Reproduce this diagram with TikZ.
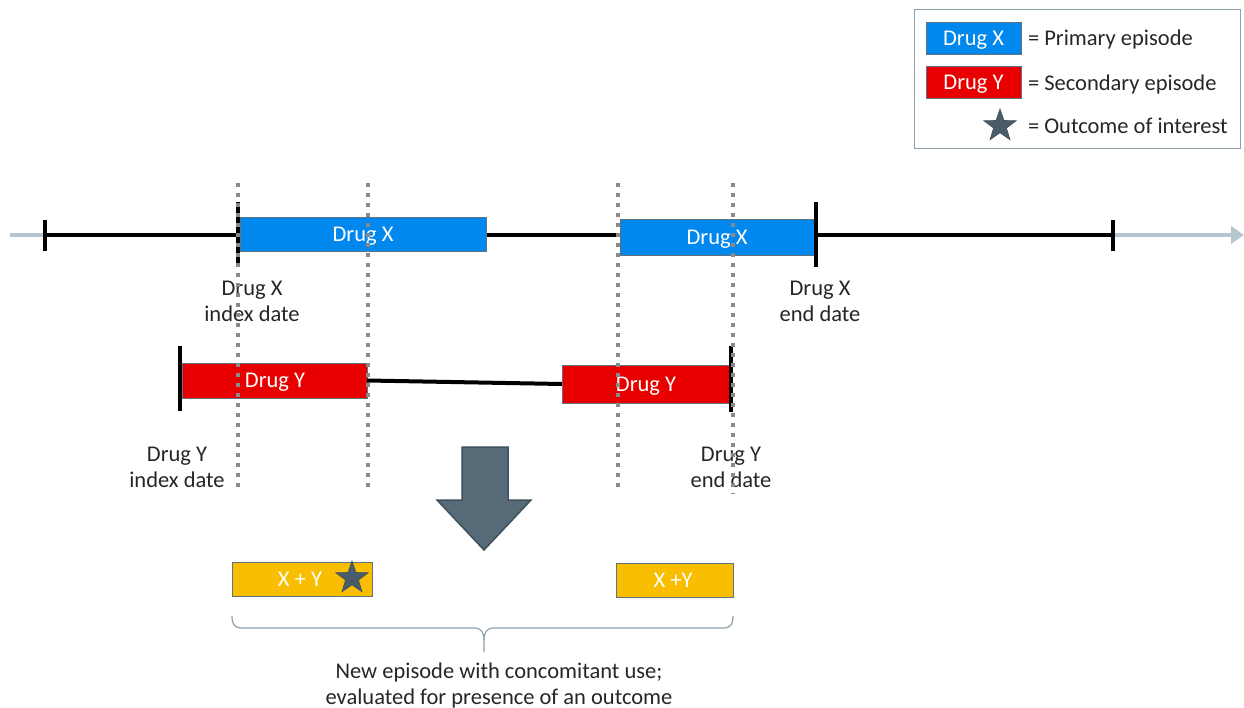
\documentclass[tikz,border=0pt]{standalone}
\usepackage{fontspec}
\setmainfont{Carlito}
\usetikzlibrary{shapes.geometric,arrows.meta}
\definecolor{drugx}{HTML}{0088EE}
\definecolor{drugy}{HTML}{E80000}
\definecolor{combo}{HTML}{F9BE00}
\definecolor{slate}{HTML}{4A5C68}
\definecolor{axisgray}{HTML}{B7C6CE}
\definecolor{guide}{HTML}{8A8A8A}
\definecolor{boxedge}{HTML}{5F7480}
\definecolor{bracegray}{HTML}{8FA0AA}
\definecolor{arrowfill}{HTML}{566B77}
\definecolor{arrowedge}{HTML}{3F515C}

\begin{document}
\begin{tikzpicture}[x=1pt,y=-1pt,
  every node/.style={font=\fontsize{22.5}{26}\selectfont, inner sep=0pt, outer sep=0pt},
  episode/.style={draw=boxedge, line width=0.8pt, text=white, text height=16.5pt, text depth=2pt},
  xep/.style={episode, fill=drugx},
  yep/.style={episode, fill=drugy},
  cep/.style={episode, fill=combo},
  celltext/.style={text=white, text height=16.5pt, text depth=2pt},
  outcome/.style={star, star points=5, star point ratio=2.5, fill=slate,
    draw=arrowedge, line width=0.6pt, minimum size=34pt},
  tick/.style={line width=4pt, black},
  timeline/.style={line width=4pt, black},
  guideline/.style={guide, line width=3.5pt, dash pattern=on 4pt off 6pt},
  caption/.style={align=center, text=black!85},
  legendtext/.style={anchor=west, text=black!85, text height=16.5pt, text depth=2pt}]
\useasboundingbox (0,0) rectangle (1244,708);

% legend
\node[draw=bracegray, line width=1pt, minimum width=326pt, minimum height=139pt, anchor=north west] (legend) at (914,10) {};
\node[xep, minimum width=95pt, minimum height=32pt] (lx) at (973.5,38) {Drug X};
\node[yep, minimum width=95pt, minimum height=32pt] (ly) at (973.5,82) {Drug Y};
\node[outcome] (ls) at (1000,126) {};
\node[legendtext] (lxt) at (1028,38) {= Primary episode};
\node[legendtext] (lyt) at (1028,83) {= Secondary episode};
\node[legendtext] (lst) at (1028,126) {= Outcome of interest};

% time axis
\coordinate (a0) at (10,235);
\coordinate (a1) at (1244,235);
\draw[axisgray, line width=4pt, -{Triangle[length=13pt,width=17pt]}] (a0) -- (a1);

% drug X row
\coordinate (t1) at (45,235);
\coordinate (t4) at (1113,235);
\draw[timeline] (t1) -- (t4);
\draw[tick] (45,220) -- (45,251);
\draw[tick] (1113,220) -- (1113,251);
\draw[tick] (238,202) -- (238,267);
\node[xep, minimum width=246pt, minimum height=34pt] (x1) at (363,234) {Drug X};
\node[xep, minimum width=194pt, minimum height=36pt] (x2) at (717,237) {Drug X};
\draw[tick] (816,202) -- (816,267);

\node[caption] (xi) at (252,301) {Drug X\\index date};
\node[caption] (xe) at (820,301) {Drug X\\end date};

% drug Y row
\node[yep, minimum width=185pt, minimum height=35pt] (y1) at (274.5,380.5) {\hspace*{1pt}Drug Y};
\node[yep, minimum width=168pt, minimum height=38pt] (y2) at (646,384) {Drug Y};
\draw[timeline] (y1.east) -- (y2.west);
\draw[tick] (180,346) -- (180,411);
\draw[tick] (731,346) -- (731,412);

\node[caption] (yi) at (177,467) {Drug Y\\index date};
\node[caption] (ye) at (731,467) {Drug Y\\end date};

% dotted guides through the episode boundaries
\draw[guideline] (238,183) -- (238,487);
\draw[guideline] (368,183) -- (368,487);
\draw[guideline] (618,183) -- (618,487);
\draw[guideline] (733,183) -- (733,494);

% block arrow
\draw[arrowedge, fill=arrowfill, line width=1.5pt, line join=miter]
  (462,447) -- (508,447) -- (508,500) -- (531,500) -- (484,550) -- (437,500) -- (462,500) -- cycle;

% combined episodes
\node[cep, minimum width=140pt, minimum height=34pt] (c1) at (302,579) {};
\node[celltext] (c1t) at (300,579) {X + Y};
\node[outcome] (c1s) at (352,578) {};
\node[cep, minimum width=117pt, minimum height=34pt] (c2) at (674.5,580) {};
\node[celltext] (c2t) at (673,580) {X +Y};

% brace
\draw[bracegray, line width=1.2pt]
  (232,616) .. controls (232,624) and (234,628) .. (242,628) -- (474,628)
  .. controls (481,628) and (484,632) .. (484,640) -- (484,652);
\draw[bracegray, line width=1.2pt]
  (484,640) .. controls (484,632) and (487,628) .. (494,628) -- (723,628)
  .. controls (731,628) and (733,624) .. (733,616);

\node[caption] (note) at (499,685) {New episode with concomitant use;\\evaluated for presence of an outcome};
\end{tikzpicture}
\end{document}
